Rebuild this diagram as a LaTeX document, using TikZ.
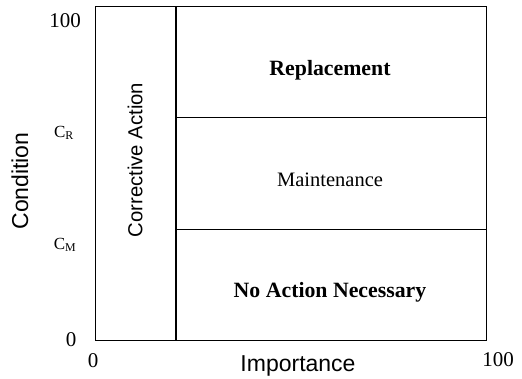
\documentclass[tikz,border=0pt]{standalone}
\usepackage{fontspec}
\setmainfont{Liberation Serif}
\setsansfont{Liberation Sans}
\usepackage{tikz}
\usetikzlibrary{positioning}

\tikzset{
  num/.style={font=\fontsize{21}{24}\selectfont, inner sep=0pt},
  lvl/.style={font=\fontsize{17}{20}\selectfont, inner sep=0pt},
  zone/.style={font=\fontsize{20.5}{24}\selectfont, inner sep=0pt},
  bzone/.style={font=\bfseries\fontsize{21.8}{25}\selectfont, inner sep=0pt},
  axis/.style={font=\sffamily\fontsize{23}{27}\selectfont, inner sep=0pt}
}

\begin{document}
\begin{tikzpicture}[x=1pt, y=-1pt, line width=1pt]
\useasboundingbox (0, 0) rectangle (522, 378);
\draw (95, 6) rectangle (486, 340);
\draw[line width=1.3pt] (176, 6) -- (176, 340);
\foreach \y in {117, 229} {
\draw (176, \y) -- (486, \y); }

\node[num] (ctop) at (65, 21) {100};
\node[lvl] (cr) at (64, 133) {C\textsubscript{R}};
\node[lvl] (cm) at (65, 245) {C\textsubscript{M}};
\node[num] (cbot) at (71, 340) {0};
\node[num] (ileft) at (93, 361) {0};
\node[num] (iright) at (498, 360) {100};

\node[axis, rotate=90] (cond) at (20, 181) {Condition};
\node[axis] (imp) at (298, 366) {Importance};
\node[axis, rotate=90, font=\sffamily\fontsize{20.3}{24}\selectfont] (corr) at (135, 160) {Corrective Action};

\node[bzone] (repl) at (330, 70) {Replacement};
\node[zone] (maint) at (330, 180) {Maintenance};
\node[bzone] (noact) at (330, 292) {No Action Necessary};
\end{tikzpicture}
\end{document}
